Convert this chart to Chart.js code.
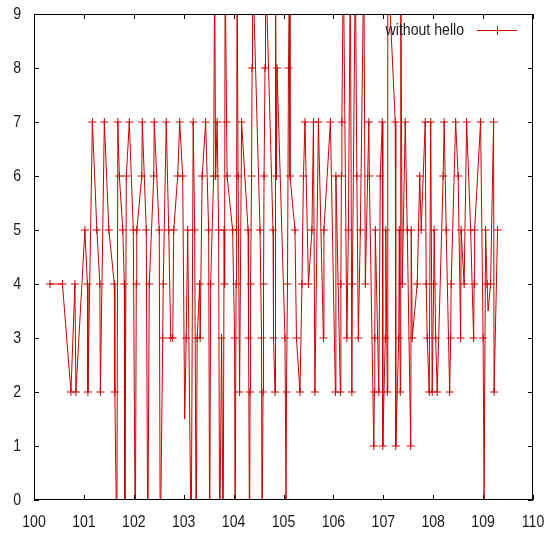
<!DOCTYPE html>
<html>
<head>
<meta charset="utf-8">
<script src="https://cdn.jsdelivr.net/npm/chart.js@4/dist/chart.umd.min.js"></script>
<style>
  html, body { margin: 0; padding: 0; background: #fff; }
  #wrap { width: 548px; height: 533px; }
</style>
</head>
<body>
<div id="wrap"><canvas id="chart" width="548" height="533"></canvas></div>
<script>
const FONT = "'Liberation Sans', Arial, sans-serif";
const RED = '#cc0000';
const SQUEEZE = 0.83; // the source picture is narrower than it is tall, text included

const seriesName = 'without hello';
const xTicks = [100, 101, 102, 103, 104, 105, 106, 107, 108, 109, 110];
const yTicks = [0, 1, 2, 3, 4, 5, 6, 7, 8, 9];

// sample times (x) and values (y) in drawing order
const times = [
    100.32, 100.57, 100.74, 100.82, 100.84, 101.02, 101.07, 101.08, 101.17, 101.26,
    101.32, 101.33, 101.41, 101.50, 101.61, 101.62, 101.66, 101.68, 101.71, 101.78,
    101.81, 101.82, 101.85, 101.91, 101.99, 102.03, 102.05, 102.06, 102.16, 102.17,
    102.25, 102.28, 102.31, 102.40, 102.41, 102.51, 102.53, 102.58, 102.59, 102.65,
    102.70, 102.74, 102.78, 102.80, 102.88, 102.92, 102.98, 103.02, 103.05, 103.08,
    103.15, 103.19, 103.22, 103.25, 103.27, 103.32, 103.33, 103.37, 103.44, 103.50,
    103.52, 103.54, 103.60, 103.62, 103.64, 103.67, 103.70, 103.72, 103.76, 103.79,
    103.81, 103.82, 103.83, 103.86, 103.87, 103.98, 104.02, 104.03, 104.05, 104.06,
    104.07, 104.09, 104.12, 104.16, 104.29, 104.30, 104.32, 104.33, 104.34, 104.36,
    104.37, 104.38, 104.53, 104.56, 104.57, 104.59, 104.60, 104.61, 104.63, 104.64,
    104.79, 104.80, 104.83, 104.84, 104.86, 104.87, 105.03, 105.05, 105.06, 105.08,
    105.10, 105.12, 105.13, 105.23, 105.26, 105.33, 105.37, 105.40, 105.43, 105.50,
    105.57, 105.60, 105.63, 105.70, 105.80, 105.81, 105.94, 106.04, 106.05, 106.14,
    106.15, 106.16, 106.17, 106.20, 106.27, 106.30, 106.34, 106.37, 106.38, 106.44,
    106.47, 106.50, 106.54, 106.61, 106.64, 106.71, 106.72, 106.81, 106.82, 106.83,
    106.84, 106.91, 106.94, 106.98, 106.99, 107.04, 107.05, 107.08, 107.09, 107.24,
    107.25, 107.31, 107.32, 107.34, 107.35, 107.38, 107.44, 107.48, 107.55, 107.56,
    107.58, 107.68, 107.73, 107.76, 107.84, 107.86, 107.88, 107.92, 107.95, 107.98,
    108.01, 108.02, 108.05, 108.08, 108.20, 108.22, 108.26, 108.33, 108.35, 108.36,
    108.45, 108.50, 108.55, 108.56, 108.62, 108.67, 108.75, 108.81, 108.82, 108.83,
    108.95, 109.00, 109.02, 109.05, 109.08, 109.10, 109.15, 109.21, 109.22, 109.29
];
const values = [
    4, 4, 2, 4, 2, 5, 4, 2, 7, 5,
    4, 2, 7, 5, 4, 2, -1, 7, 6, 5,
    4, -1, 6, 7, 5, -1, 4, 5, 6, 7,
    5, -1, 4, 6, 7, 5, -1, 3, 4, 7,
    5, 3, 3, 5, 6, 7, 6, 1.5, 3, 5,
    -1, 7, 5, -1, 3, 4, 3, 6, 7, 5,
    -1, 4, 6, 10, 6, 7, 5, -1, 3, -1,
    5, 4, 10, 7, 6, 5, 3, -1, 4, 5,
    10, 6, 2, 7, 5, 3, -1, 2, 4, 6,
    8, 10, 5, 3, -1, 2, 4, 6, 8, 10,
    5, 3, 2, 10, 6, 8, 3, 0, 2, 4,
    8, 10, 6, 5, 3, 2, 4, 6, 7, 4,
    5, 7, 2, 7, 3, 5, 7, 2, 6, 2,
    4, 6, 7, 10, 3, 5, 10, 2, 4, 10,
    6, 3, 5, 10, 4, 7, 6, 1, 2, 3,
    5, 2, 6, 7, 1, 3, 5, 2, 10, 7,
    1, 3, 5, 2, 10, 4, 7, 5, 1, 5,
    3, 4, 6, 5, 7, 4, 3, 2, 7, 2,
    4, 5, 3, 2, 6, 7, 5, 2, 3, 4,
    7, 6, 3, 5, 4, 7, 5, 3, 4, 5,
    7, 3, 0, 5, 4, 3.5, 4, 7, 2, 5
];

const points = times.map((t, i) => ({ x: t, y: values[i] }));

// narrow text, like the squeezed original
function squeezedText(c, text, x, y, align) {
    c.save();
    c.translate(x, y);
    c.scale(SQUEEZE, 1);
    c.textAlign = align;
    c.fillText(text, 0, 0);
    c.restore();
}

// gnuplot style frame with inward ticks on all four sides, tick labels and the key
const framePlugin = {
    id: 'frame',
    afterDraw(chart) {
        const c = chart.ctx;
        const a = chart.chartArea;
        const xs = chart.scales.x;
        const ys = chart.scales.y;
        c.save();
        c.strokeStyle = '#000';
        c.lineWidth = 1;
        c.beginPath();
        xTicks.forEach(v => {
            const px = Math.round(xs.getPixelForValue(v)) + 0.5;
            c.moveTo(px, a.bottom); c.lineTo(px, a.bottom - 5);
            c.moveTo(px, a.top); c.lineTo(px, a.top + 5);
        });
        yTicks.forEach(v => {
            const py = Math.round(ys.getPixelForValue(v)) + 0.5;
            c.moveTo(a.left, py); c.lineTo(a.left + 5, py);
            c.moveTo(a.right, py); c.lineTo(a.right - 5, py);
        });
        c.stroke();
        c.strokeRect(a.left + 0.5, a.top + 0.5, a.right - a.left - 1, a.bottom - a.top - 1);

        c.fillStyle = '#1a1a1a';
        c.font = '17px ' + FONT;
        c.textBaseline = 'middle';
        xTicks.forEach(v => {
            squeezedText(c, String(v), xs.getPixelForValue(v), a.bottom + 22, 'center');
        });
        yTicks.forEach(v => {
            squeezedText(c, String(v), a.left - 13, ys.getPixelForValue(v), 'right');
        });

        // key
        const ky = a.top + 16;
        squeezedText(c, seriesName, 464, ky, 'right');
        c.strokeStyle = RED;
        c.beginPath();
        c.moveTo(477, ky + 0.5); c.lineTo(517, ky + 0.5);
        c.moveTo(497.5, ky - 4); c.lineTo(497.5, ky + 5);
        c.stroke();
        c.restore();
    }
};

function fixSize(w, h) {
    return scale => {
        if (w !== null) scale.width = w;
        if (h !== null) scale.height = h;
        scale.paddingLeft = 0;
        scale.paddingRight = 0;
        scale.paddingTop = 0;
        scale.paddingBottom = 0;
    };
}

const ctx = document.getElementById('chart').getContext('2d');
const chart = new Chart(ctx, {
    type: 'line',
    data: {
        datasets: [{
            label: seriesName,
            data: points,
            borderColor: RED,
            borderWidth: 1,
            pointStyle: 'cross',
            pointBorderColor: RED,
            pointBorderWidth: 1,
            pointRadius: function(context) {
                const v = context.raw ? context.raw.y : null;
                return (Number.isInteger(v) && v >= 0 && v <= 9) ? 4 : 0;
            },
            pointHoverRadius: 0,
            tension: 0,
            fill: false
        }]
    },
    options: {
        responsive: false,
        animation: false,
        events: [],
        layout: { padding: { left: 0, right: 15, top: 14, bottom: 0 } },
        plugins: {
            legend: { display: false },
            tooltip: { enabled: false }
        },
        scales: {
            x: {
                type: 'linear',
                min: 100,
                max: 110,
                afterFit: fixSize(null, 33),
                grid: { display: false },
                border: { display: false },
                ticks: { display: false, stepSize: 1 }
            },
            y: {
                min: 0,
                max: 9,
                afterFit: fixSize(34, null),
                grid: { display: false },
                border: { display: false },
                ticks: { display: false, stepSize: 1 }
            }
        }
    },
    plugins: [framePlugin]
});
</script>
</body>
</html>
